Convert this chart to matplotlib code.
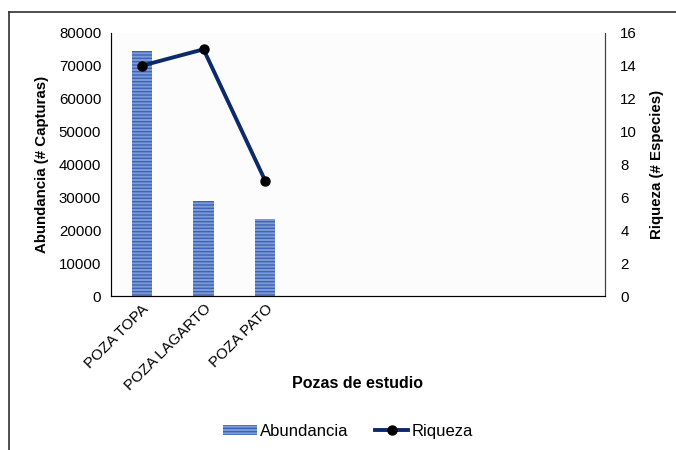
import matplotlib.pyplot as plt
from matplotlib.lines import Line2D
import numpy as np

plt.rcParams['font.family'] = ['Liberation Sans', 'DejaVu Sans']
plt.rcParams['hatch.linewidth'] = 1.0

pozas = ['POZA TOPA', 'POZA LAGARTO', 'POZA PATO']
abundancia = [74500, 28800, 23500]
riqueza = [14, 15, 7]
n_slots = 8  # empty categories on the axis, as in the original

fig = plt.figure(figsize=(6.76, 4.5), dpi=100)
ax = fig.add_axes([0.164, 0.342, 0.731, 0.585])
ax.set_facecolor('#fcfcfc')

x = np.arange(len(pozas))
ax.bar(x, abundancia, width=0.33, color='#7d9bd6', edgecolor='#3d64b4',
       hatch='-----', linewidth=0)
ax.set_xlim(-0.5, n_slots - 0.5)
ax.set_ylim(0, 80000)
ax.set_yticks(np.arange(0, 80001, 10000))
ax.set_xticks(x)
ax.set_xticklabels(pozas, rotation=45, ha='right', rotation_mode='anchor')
ax.tick_params(axis='both', length=0, labelsize=10.8, pad=7)
ax.tick_params(axis='x', pad=4)
ax.set_ylabel('Abundancia (# Capturas)', fontsize=10.8, fontweight='bold', labelpad=7)
ax.set_xlabel('Pozas de estudio', fontsize=11.5, fontweight='bold')
ax.xaxis.set_label_coords(0.5, -0.302)
ax.spines['top'].set_visible(False)
for s in ['left', 'bottom', 'right']:
    ax.spines[s].set_color('#404040')

ax2 = ax.twinx()
ax2.plot(x, riqueza, color='#0c2a6a', linewidth=2.8, marker='o',
         markersize=6.5, markerfacecolor='black', markeredgecolor='black')
ax2.set_ylim(0, 16)
ax2.set_yticks(np.arange(0, 17, 2))
ax2.tick_params(axis='y', length=0, labelsize=10.8, pad=11)
ax2.set_ylabel('Riqueza (# Especies)', fontsize=10.8, fontweight='bold', labelpad=9)
ax2.spines['top'].set_visible(False)
ax2.spines['right'].set_color('#404040')

handles = [
    plt.Rectangle((0, 0), 1, 1, facecolor='#7d9bd6', edgecolor='#3d64b4',
                  hatch='-----', linewidth=0),
    Line2D([0], [0], color='#0c2a6a', linewidth=2.8, marker='o',
           markersize=6.5, markerfacecolor='black', markeredgecolor='black'),
]
fig.legend(handles, ['Abundancia', 'Riqueza'], loc='center',
           bbox_to_anchor=(0.515, 0.042), ncol=2, frameon=False,
           fontsize=12, handlelength=2.0, handleheight=0.55, columnspacing=1.6,
           handletextpad=0.2)

# chart frame (left and top edges visible)
fig.add_artist(Line2D([9 / 676, 9 / 676], [0, 1 - 12 / 450],
                      transform=fig.transFigure, color='#303030', linewidth=1.2))
fig.add_artist(Line2D([9 / 676, 1], [1 - 12 / 450, 1 - 12 / 450],
                      transform=fig.transFigure, color='#303030', linewidth=1.2))

fig.savefig('out.png', dpi=100)
